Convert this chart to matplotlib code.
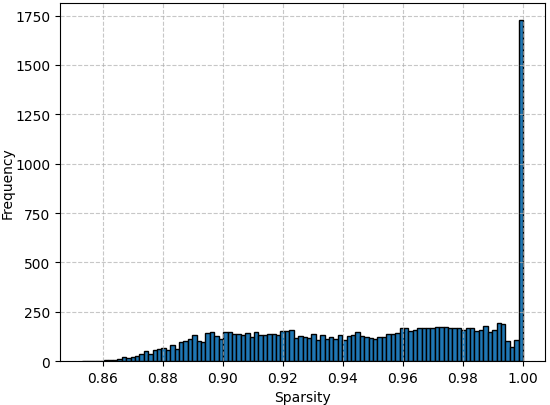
import numpy as np
import matplotlib
matplotlib.use("Agg")
import matplotlib.pyplot as plt

# Histogram range and bin count
x_min = 0.853
x_max = 1.0
n_bins = 100

# Counts per bin
counts = [
    0, 1, 1, 2, 3, 5, 8, 8, 10, 19,
    17, 22, 25, 36, 49, 34, 58, 64, 66, 59,
    83, 63, 98, 103, 112, 131, 103, 97, 141, 149,
    127, 112, 149, 149, 136, 136, 132, 141, 120, 146,
    132, 132, 137, 139, 134, 153, 154, 158, 117, 126,
    124, 117, 139, 107, 134, 110, 120, 110, 131, 107,
    126, 134, 146, 126, 120, 117, 112, 124, 120, 137,
    137, 142, 168, 168, 154, 158, 170, 170, 170, 166,
    175, 175, 175, 170, 166, 168, 159, 166, 170, 151,
    159, 180, 146, 159, 193, 187, 103, 71, 105, 1727,
]

x_ticks = [0.86, 0.88, 0.90, 0.92, 0.94, 0.96, 0.98, 1.00]
y_ticks = [0, 250, 500, 750, 1000, 1250, 1500, 1750]

edges = np.linspace(x_min, x_max, n_bins + 1)
centers = (edges[:-1] + edges[1:]) / 2

fig = plt.figure(figsize=(5.5, 4.06), dpi=100)
ax = fig.add_subplot(111)
fig.subplots_adjust(left=0.109, right=0.991, top=0.990, bottom=0.108)

ax.hist(centers, bins=edges, weights=counts, color="#1f77b4",
        edgecolor="black", linewidth=1.0)
ax.grid(True, linestyle="--", color="#b0b0b0", alpha=0.7)
ax.set_xticks(x_ticks)
ax.set_xticklabels([f"{t:.2f}" for t in x_ticks])
ax.set_yticks(y_ticks)
ax.set_xlabel("Sparsity")
ax.set_ylabel("Frequency", labelpad=0.5)

fig.savefig("out.png", dpi=100)
